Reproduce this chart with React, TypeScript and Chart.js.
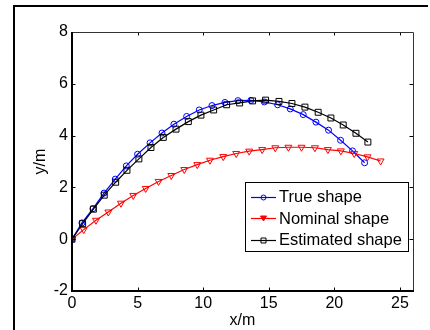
import React, { useEffect, useRef } from "react";
import { Chart, registerables } from "chart.js";

Chart.register(...registerables);

const trueX = [0, 0.76, 1.6, 2.44, 3.3, 4.14, 5.0, 5.95, 6.86, 7.77, 8.74, 9.7, 10.67, 11.66, 12.65, 13.64, 14.66, 15.68, 16.64, 17.63, 18.6, 19.56, 20.48, 21.39, 22.31];
const trueY = [0, 0.63, 1.18, 1.78, 2.32, 2.83, 3.28, 3.72, 4.1, 4.44, 4.74, 4.99, 5.16, 5.28, 5.35, 5.36, 5.3, 5.19, 5.03, 4.81, 4.52, 4.21, 3.82, 3.41, 2.95];
const nominalX = [0, 0.89, 1.83, 2.77, 3.73, 4.67, 5.62, 6.6, 7.57, 8.56, 9.55, 10.52, 11.53, 12.52, 13.51, 14.5, 15.5, 16.5, 17.5, 18.52, 19.51, 20.5, 21.52, 22.53, 23.53];
const nominalY = [0, 0.37, 0.73, 1.05, 1.39, 1.69, 1.96, 2.23, 2.46, 2.69, 2.88, 3.05, 3.19, 3.31, 3.4, 3.46, 3.53, 3.55, 3.55, 3.53, 3.46, 3.41, 3.31, 3.18, 3.02];
const estX = [0, 0.81, 1.63, 2.46, 3.33, 4.19, 5.1, 6.02, 6.96, 7.93, 8.87, 9.83, 10.8, 11.79, 12.78, 13.77, 14.76, 15.78, 16.77, 17.76, 18.77, 19.74, 20.68, 21.65, 22.56];
const estY = [0, 0.6, 1.16, 1.7, 2.2, 2.66, 3.1, 3.54, 3.93, 4.25, 4.54, 4.79, 4.99, 5.19, 5.26, 5.34, 5.37, 5.32, 5.24, 5.1, 4.9, 4.68, 4.41, 4.09, 3.75];

const seriesLabels = ["True shape", "Nominal shape", "Estimated shape"];
const seriesColors = ["#0000ff", "#ff0000", "#000000"];
const seriesMarkers = ["circle", "triangleDown", "rect"];

const xTicks = [0, 5, 10, 15, 20, 25];
const yTicks = [-2, 0, 2, 4, 6, 8];
const xTitle = "x/m";
const yTitle = "y/m";

const FONT = "'Liberation Sans', Arial, sans-serif";

function toPoints(xs: number[], ys: number[]) {
  return xs.map((x, i) => ({ x, y: ys[i] }));
}

function drawMarker(ctx: CanvasRenderingContext2D, kind: string, x: number, y: number, color: string) {
  ctx.save();
  ctx.strokeStyle = color;
  ctx.lineWidth = 1;
  ctx.beginPath();
  if (kind === "circle") {
    ctx.arc(x, y, 2.5, 0, Math.PI * 2);
  } else if (kind === "rect") {
    ctx.rect(x - 2.5, y - 2.5, 5, 5);
  } else {
    ctx.moveTo(x - 3, y - 2.5);
    ctx.lineTo(x + 3, y - 2.5);
    ctx.lineTo(x, y + 2.5);
    ctx.closePath();
    ctx.fillStyle = color;
    ctx.fill();
  }
  ctx.stroke();
  ctx.restore();
}

const framePlugin = {
  id: "matlabFrame",
  beforeDraw(chart: any) {
    const ctx = chart.ctx as CanvasRenderingContext2D;
    ctx.save();
    ctx.fillStyle = "#fff";
    ctx.fillRect(0, 0, chart.width, chart.height);
    ctx.fillStyle = "#000";
    ctx.fillRect(13, 5, chart.width - 15, 2);
    ctx.fillRect(13, 5, 2, chart.height - 5);
    ctx.restore();
  },
  afterDatasetsDraw(chart: any) {
    const ctx = chart.ctx as CanvasRenderingContext2D;
    const { left, right, top, bottom } = chart.chartArea;
    const xs = chart.scales.x;
    const ys = chart.scales.y;
    ctx.save();
    ctx.strokeStyle = "#000";
    ctx.lineWidth = 1;
    const tl = 3.5;
    ctx.beginPath();
    xs.ticks.forEach((t: any) => {
      const px = Math.round(xs.getPixelForValue(t.value)) + 0.5;
      ctx.moveTo(px, bottom);
      ctx.lineTo(px, bottom - tl);
      ctx.moveTo(px, top);
      ctx.lineTo(px, top + tl);
    });
    ys.ticks.forEach((t: any) => {
      const py = Math.round(ys.getPixelForValue(t.value)) + 0.5;
      ctx.moveTo(left, py);
      ctx.lineTo(left + tl, py);
      ctx.moveTo(right, py);
      ctx.lineTo(right - tl, py);
    });
    ctx.stroke();
    ctx.strokeStyle = "#333";
    ctx.beginPath();
    ctx.moveTo(left, top + 0.5);
    ctx.lineTo(right + 0.5, top + 0.5);
    ctx.lineTo(right + 0.5, bottom);
    ctx.stroke();
    ctx.fillStyle = "#000";
    ctx.fillRect(left - 1, top, 2, bottom - top + 1);
    ctx.fillRect(left - 1, bottom - 1, right - left + 2, 2);
    ctx.restore();
  },
  afterDraw(chart: any) {
    const ctx = chart.ctx as CanvasRenderingContext2D;
    const { right, bottom } = chart.chartArea;
    const w = 163;
    const h = 69;
    const bx = Math.round(right - 5 - w);
    const by = Math.round(bottom - 40 - h);
    ctx.save();
    ctx.fillStyle = "#fff";
    ctx.fillRect(bx, by, w, h);
    ctx.strokeStyle = "#000";
    ctx.lineWidth = 1;
    ctx.strokeRect(bx + 0.5, by + 0.5, w, h);
    ctx.font = `16.5px ${FONT}`;
    ctx.textBaseline = "middle";
    ctx.textAlign = "left";
    seriesLabels.forEach((label, i) => {
      const cy = by + 14.5 + i * 21.5;
      ctx.strokeStyle = seriesColors[i];
      ctx.lineWidth = 1.2;
      ctx.beginPath();
      ctx.moveTo(bx + 6, Math.round(cy) + 0.5);
      ctx.lineTo(bx + 31, Math.round(cy) + 0.5);
      ctx.stroke();
      drawMarker(ctx, seriesMarkers[i], bx + 18.5, Math.round(cy) + 0.5, seriesColors[i]);
      ctx.fillStyle = "#000";
      ctx.fillText(label, bx + 34, cy + 1);
    });
    ctx.restore();
  },
};

export default function App() {
  const ref = useRef<HTMLCanvasElement | null>(null);
  useEffect(() => {
    if (!ref.current) return;
    const mk = (i: number, xs: number[], ys: number[], extra: any) => ({
      label: seriesLabels[i],
      data: toPoints(xs, ys),
      showLine: true,
      borderColor: seriesColors[i],
      borderWidth: 1.2,
      pointBorderColor: seriesColors[i],
      pointBackgroundColor: "rgba(0,0,0,0)",
      pointBorderWidth: 1,
      ...extra,
    });
    const chart = new Chart(ref.current, {
      type: "scatter",
      data: {
        datasets: [
          mk(0, trueX, trueY, { pointStyle: "circle", pointRadius: 3, order: 3 }),
          mk(1, nominalX, nominalY, { pointStyle: "triangle", pointRotation: 180, pointRadius: 4, order: 2 }),
          mk(2, estX, estY, { pointStyle: "rect", pointRadius: 4.2, order: 1 }),
        ],
      },
      options: {
        animation: false,
        responsive: false,
        devicePixelRatio: 1,
        layout: { padding: { left: 0, right: 17, top: 32, bottom: 0 } },
        plugins: { legend: { display: false }, tooltip: { enabled: false } },
        scales: {
          x: {
            type: "linear",
            min: 0,
            max: 26,
            grid: { display: false, drawTicks: false },
            border: { display: false },
            afterBuildTicks: (s: any) => {
              s.ticks = xTicks.map((v) => ({ value: v }));
            },
            afterFit: (s: any) => {
              s.height = 39;
            },
            ticks: {
              color: "#000",
              padding: 3,
              maxRotation: 0,
              font: { family: FONT, size: 16 },
              callback: (v: any) => String(v),
            },
            title: {
              display: true,
              text: xTitle,
              color: "#000",
              font: { family: FONT, size: 16 },
              padding: { top: 0, bottom: 0 },
            },
          },
          y: {
            type: "linear",
            min: -2,
            max: 8,
            grid: { display: false, drawTicks: false },
            border: { display: false },
            afterBuildTicks: (s: any) => {
              s.ticks = yTicks.map((v) => ({ value: v }));
            },
            afterFit: (s: any) => {
              s.width = 72;
            },
            ticks: {
              color: "#000",
              padding: 4,
              font: { family: FONT, size: 16 },
              callback: (v: any) => String(v),
            },
            title: {
              display: true,
              text: yTitle,
              color: "#000",
              font: { family: FONT, size: 16 },
              padding: { top: 31, bottom: 0 },
            },
          },
        },
      },
      plugins: [framePlugin],
    });
    return () => chart.destroy();
  }, []);
  return (
    <div style={{ position: "absolute", left: 0, top: 0, width: 430, height: 330, background: "#fff" }}>
      <canvas ref={ref} width={430} height={330} style={{ display: "block" }} />
    </div>
  );
}
